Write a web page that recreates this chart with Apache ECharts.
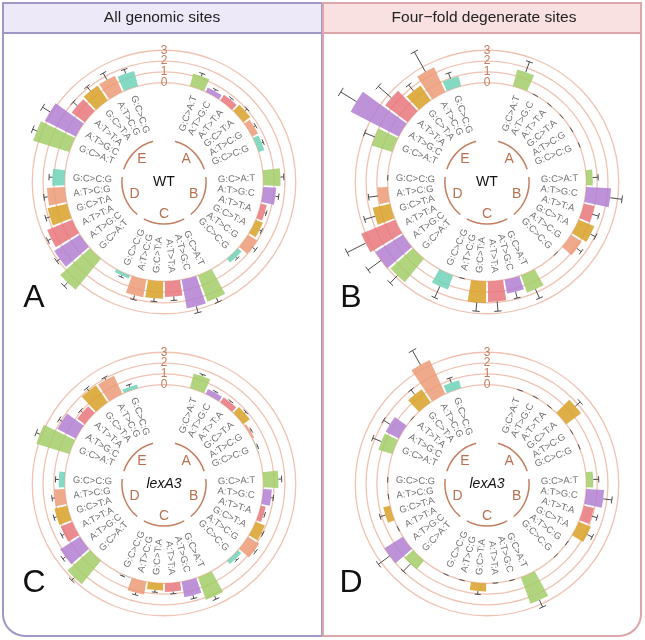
<!DOCTYPE html>
<html><head><meta charset="utf-8">
<script src="https://cdn.jsdelivr.net/npm/echarts@6/dist/echarts.min.js"></script>
<style>html,body{margin:0;padding:0;background:#fff}#main{width:645px;height:640px}</style>
</head><body><div id="main"></div>
<script>
// ---------- data ----------
const mutationTypes = ['G:C>A:T','A:T>G:C','A:T>T:A','G:C>T:A','A:T>C:G','G:C>C:G'];
const groupNames = ['A','B','C','D','E'];
const tickValues = [0,1,2,3];
const panelTitles = ['All genomic sites','Four\u2212fold degenerate sites'];
const panelLetters = ['A','B','C','D'];
const centerLabels = ['WT','WT','lexA3','lexA3'];

// values: groups A..E, each in mutationTypes order
const wtAllMean = [
 1.2,0.45,0.6,0.8,0.6,0.55,
 1.6,1.2,0.55,0.7,1.0,0.45,
 2.6,2.7,1.45,1.6,1.65,0.3,
 3.7,2.8,2.5,1.85,1.65,1.15,
 3.5,3.2,1.5,1.65,1.65,1.45];
const wtAllErr = [
 0.25,0.15,0.15,0.25,0.15,0.15,
 0.3,0.3,0.15,0.2,0.35,0.15,
 0.4,0.6,0.35,0.3,0.4,0.15,
 0.45,0.35,0.35,0.4,0.35,0.3,
 0.4,0.8,0.5,0.5,0.7,0.4];
const wtFourMean = [
 1.6,0,0,0,0,0,
 0.6,2.3,1.0,1.55,1.15,0,
 1.7,1.3,1.9,2.0,0,1.4,
 2.8,3.0,3.4,1.65,0.95,0,
 2.0,5.0,2.6,1.65,2.5,0.95];
const wtFourErr = [
 1.0,0,0,0,0,0,
 0.5,1.1,0.6,0.5,0.5,0,
 0.9,0.6,0.9,0.8,0,1.15,
 0.95,1.5,1.9,1.0,0.9,0,
 1.0,1.7,1.6,0.7,2.1,0.55];
const lexAllMean = [
 1.4,0.5,0.55,0.75,0.2,0.05,
 1.4,0.8,0.45,0.9,1.2,0.4,
 2.2,1.45,0.8,0.65,1.2,0.05,
 2.8,2.15,1.15,1.2,1.0,0.55,
 3.2,1.9,0.85,1.9,1.85,0.35];
const lexAllErr = [
 0.15,0.1,0.1,0.15,0.1,0.1,
 0.3,0.2,0.1,0.15,0.15,0.15,
 0.3,0.3,0.2,0.2,0.2,0.1,
 0.35,0.3,0.25,0.25,0.25,0.3,
 0.35,0.3,0.25,0.3,0.25,0.2];
const lexFourMean = [
 0,0,0,1.7,0,0,
 0.65,1.65,0.95,1.2,0,0,
 2.6,0,0,0.75,0,0,
 1.05,2.0,0,0.65,0,0,
 1.35,1.35,0,1.45,3.45,0.75];
const lexFourErr = [
 0,0,0,0.6,0,0,
 0.5,0.8,0.5,0.5,0,0,
 0.7,0,0,0.3,0,0,
 0.95,1.3,0,0.5,0,0,
 0.85,0.7,0,0.55,1.5,0.45];

// ---------- styling / layout ----------
const typeColors = ['#a3cd69','#b27fd2','#e8767b','#d9a127','#eb9b77','#6fd2b7'];
const FONT = '"Liberation Sans", Arial, sans-serif';
const R_MIN = -9.2, R_MAX = 8, UNIT = 10.8;
const LABEL_V = -0.75, ARC_V = -5.3, LETTER_V = -6.25;
const SLOT_COUNT = 37, TOP_SLOT = 36;
const slotNames = Array.from({length: SLOT_COUNT}, (_, k) => 's' + k);
function slotOf(g, t) { return 1 + g * 7 + t; }

const charts = [
  {center:[164,182], means: wtAllMean,  errs: wtAllErr},
  {center:[487,182], means: wtFourMean, errs: wtFourErr},
  {center:[164,484], means: lexAllMean, errs: lexAllErr},
  {center:[487,484], means: lexFourMean, errs: lexFourErr}
];

const polar = [], angleAxis = [], radiusAxis = [], series = [];
const hidden = {show:false};
charts.forEach((ch, ci) => {
  polar.push({center: ch.center, radius: (R_MAX - R_MIN) * UNIT});
  angleAxis.push({polarIndex: ci, type:'category', data: slotNames, startAngle: 90 - 360 / SLOT_COUNT / 2,
    boundaryGap: true, axisLine: hidden, axisTick: hidden, axisLabel: hidden, splitLine: hidden});
  radiusAxis.push({polarIndex: ci, type:'value', min: R_MIN, max: R_MAX,
    axisLine: hidden, axisTick: hidden, axisLabel: hidden, splitLine: hidden});

  // frame: rings, tick labels, group arcs, letters, center label
  series.push({
    type:'custom', coordinateSystem:'polar', polarIndex: ci, z: 1, silent: true,
    encode: {radius: 0, angle: 1},
    data: [[0, 0]],
    renderItem: function (params, api) {
      const c = api.coord([R_MIN, 0]);
      const rad = v => { const p = api.coord([v, TOP_SLOT]); return Math.hypot(p[0]-c[0], p[1]-c[1]); };
      const ang = s => { const p = api.coord([0, s]); return Math.atan2(p[1]-c[1], p[0]-c[0]); };
      const children = [];
      tickValues.forEach(v => {
        children.push({type:'circle', shape:{cx:c[0], cy:c[1], r: rad(v)},
          style:{fill:'none', stroke:'#efc2b2', lineWidth:1.3}});
      });
      tickValues.forEach(v => {
        const p = api.coord([v, TOP_SLOT]);
        children.push({type:'text', x:p[0], y:p[1], style:{text:String(v), align:'center', verticalAlign:'middle',
          fill:'#c27b5d', fontSize:12, fontFamily:FONT}});
      });
      groupNames.forEach((name, g) => {
        const a0 = ang(slotOf(g,0)), a1 = ang(slotOf(g,5));
        let d = a1 - a0; if (d < 0) d += 2*Math.PI;
        const ext = d / 5 * 0.45;
        children.push({type:'arc', shape:{cx:c[0], cy:c[1], r: rad(ARC_V), startAngle: a0-ext, endAngle: a0+d+ext, clockwise:true},
          style:{fill:'none', stroke:'#c47f61', lineWidth:1.5}});
        const mid = a0 + d/2, rl = rad(LETTER_V);
        children.push({type:'text', x: c[0] + rl*Math.cos(mid), y: c[1] + rl*Math.sin(mid),
          style:{text:name, align:'center', verticalAlign:'middle', fill:'#b8704f', fontSize:14, fontFamily:FONT}});
      });
      children.push({type:'text', x:c[0], y:c[1], style:{text: centerLabels[ci], align:'center', verticalAlign:'middle',
        fill:'#111', fontSize:14, fontFamily:FONT, fontStyle: ci >= 2 ? 'italic' : 'normal'}});
      return {type:'group', children};
    }
  });

  // bars
  const barData = slotNames.map(() => '-');
  ch.means.forEach((m, i) => {
    const g = Math.floor(i/6), t = i % 6;
    barData[slotOf(g,t)] = {value: m, itemStyle:{color: typeColors[t]}};
  });
  series.push({type:'bar', coordinateSystem:'polar', polarIndex: ci, z: 2, data: barData,
    barCategoryGap:'10%', itemStyle:{opacity:0.85}, silent:true});

  // error bars + category labels
  series.push({
    type:'custom', coordinateSystem:'polar', polarIndex: ci, z: 3, silent: true,
    encode: {radius: 0, angle: 1},
    data: ch.means.map((m, i) => [m, slotOf(Math.floor(i/6), i%6)]),
    renderItem: function (params, api) {
      const i = params.dataIndex, t = i % 6;
      const slot = slotOf(Math.floor(i/6), t);
      const m = ch.means[i], e = ch.errs[i];
      const c = api.coord([R_MIN, slot]);
      const p0 = api.coord([0, slot]);
      const a = Math.atan2(p0[1]-c[1], p0[0]-c[0]);
      const pm = api.coord([m, slot]), pe = api.coord([m + e, slot]);
      const re = Math.hypot(pe[0]-c[0], pe[1]-c[1]);
      const h = re * 0.028;
      const tx = -Math.sin(a), ty = Math.cos(a);
      const children = [
        {type:'line', shape:{x1:pm[0], y1:pm[1], x2:pe[0], y2:pe[1]}, style:{stroke:'#4d4d4d', lineWidth:1}},
        {type:'line', shape:{x1:pe[0]-tx*h, y1:pe[1]-ty*h, x2:pe[0]+tx*h, y2:pe[1]+ty*h}, style:{stroke:'#4d4d4d', lineWidth:1}}
      ];
      const pl = api.coord([LABEL_V, slot]);
      let phi = a + Math.PI/2; phi = (phi % (2*Math.PI) + 2*Math.PI) % (2*Math.PI);
      const right = phi < Math.PI;
      children.push({type:'text', x: pl[0], y: pl[1], rotation: right ? -a : -(a + Math.PI),
        style:{text: mutationTypes[t], align: right ? 'right' : 'left', verticalAlign:'middle',
          fill:'#727272', fontSize:9.5, fontFamily:FONT}});
      return {type:'group', children};
    }
  });
});

const graphic = [
  {type:'rect', z:10, shape:{x:3,y:3,width:319,height:633,r:[0,0,0,22]}, style:{fill:'none', stroke:'#a097c7', lineWidth:2}},
  {type:'rect', z:10, shape:{x:3,y:3,width:319,height:30}, style:{fill:'#ede9f8', stroke:'#a097c7', lineWidth:2}},
  {type:'rect', z:10, shape:{x:323,y:3,width:318,height:633,r:[0,0,22,0]}, style:{fill:'none', stroke:'#dda6ab', lineWidth:2}},
  {type:'rect', z:10, shape:{x:323,y:3,width:318,height:30}, style:{fill:'#f9e0e1', stroke:'#dda6ab', lineWidth:2}},
  {type:'text', z:11, x:162, y:18, style:{text:panelTitles[0], align:'center', verticalAlign:'middle', fill:'#222', fontSize:15.5, fontFamily:FONT}},
  {type:'text', z:11, x:484, y:18, style:{text:panelTitles[1], align:'center', verticalAlign:'middle', fill:'#222', fontSize:15.5, fontFamily:FONT}},
  {type:'text', z:11, x:34, y:298, style:{text:panelLetters[0], align:'center', verticalAlign:'middle', fill:'#111', fontSize:32, fontFamily:FONT}},
  {type:'text', z:11, x:351, y:298, style:{text:panelLetters[1], align:'center', verticalAlign:'middle', fill:'#111', fontSize:32, fontFamily:FONT}},
  {type:'text', z:11, x:34, y:583, style:{text:panelLetters[2], align:'center', verticalAlign:'middle', fill:'#111', fontSize:32, fontFamily:FONT}},
  {type:'text', z:11, x:351, y:583, style:{text:panelLetters[3], align:'center', verticalAlign:'middle', fill:'#111', fontSize:32, fontFamily:FONT}}
];

const chart = echarts.init(document.getElementById('main'), null, {renderer:'canvas'});
chart.setOption({animation:false, backgroundColor:'#fff', polar, angleAxis, radiusAxis, series, graphic});
</script></body></html>
